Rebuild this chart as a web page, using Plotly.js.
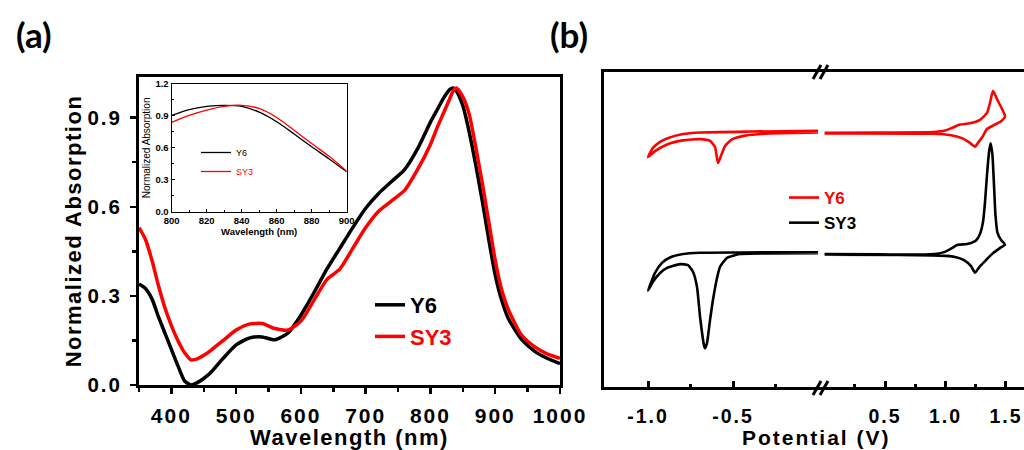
<!DOCTYPE html>
<html>
<head>
<meta charset="utf-8">
<script src="https://cdn.plot.ly/plotly-3.0.1.min.js"></script>
<style>
html,body{margin:0;padding:0;background:#fff;}
#chart{width:1024px;height:450px;}
.xtick text,.ytick text,.x2tick text,.x3tick text{letter-spacing:2px;}
.g-xtitle text,.g-ytitle text{letter-spacing:1.5px;}
.annotation[data-index="2"] text{letter-spacing:2px;}
</style>
</head>
<body>
<div id="chart"></div>
<script>
// ---------- Panel (a): UV-vis absorption ----------
const wavelength = [350,360,370,380,390,400,410,420,430,440,450,460,480,500,520,540,560,580,600,620,640,660,680,700,720,740,760,780,800,810,820,830,835,840,850,860,870,880,890,900,910,920,940,960,980,1000];
const absY6  = [0.34,0.325,0.29,0.23,0.175,0.12,0.065,0.015,0.0,0.008,0.022,0.04,0.09,0.135,0.158,0.162,0.152,0.175,0.235,0.31,0.39,0.46,0.53,0.595,0.645,0.685,0.725,0.795,0.885,0.925,0.965,0.995,1.0,0.99,0.94,0.85,0.74,0.62,0.49,0.37,0.285,0.225,0.155,0.115,0.09,0.072];
const absSY3 = [0.53,0.49,0.42,0.335,0.26,0.2,0.15,0.11,0.085,0.088,0.1,0.115,0.15,0.185,0.205,0.207,0.19,0.185,0.215,0.285,0.355,0.39,0.46,0.53,0.585,0.62,0.655,0.725,0.81,0.865,0.915,0.965,0.99,1.0,0.97,0.91,0.8,0.68,0.55,0.42,0.32,0.255,0.17,0.13,0.105,0.09];

// ---------- Inset: 800-900 nm ----------
const insetWavelength = [800,810,820,830,840,850,860,870,880,890,900];
const insetY6  = [0.905,0.96,0.99,1.0,0.99,0.935,0.845,0.73,0.61,0.495,0.375];
const insetSY3 = [0.84,0.905,0.955,0.99,1.0,0.97,0.885,0.765,0.64,0.52,0.38];

// ---------- Panel (b): cyclic voltammetry (current in a.u.) ----------
const cvY6NegV  = [0,-0.4,-0.694,-0.794,-0.888,-0.929,-0.971,-1.0,-0.959,-0.888,-0.794,-0.694,-0.635,-0.606,-0.588,-0.571,-0.547,-0.506,-0.429,-0.282,0];
const cvY6NegI  = [8.13,8.11,8.08,8.03,7.89,7.78,7.59,7.30,7.49,7.70,7.83,7.87,7.81,7.62,7.11,7.33,7.65,7.86,7.98,8.05,8.08];
const cvY6PosV  = [0,0.459,0.897,0.996,1.062,1.12,1.202,1.285,1.343,1.368,1.393,1.426,1.459,1.492,1.459,1.393,1.343,1.31,1.269,1.244,1.202,1.136,1.037,0.897,0];
const cvY6PosI  = [8.07,8.08,8.09,8.14,8.24,8.33,8.37,8.48,8.70,9.02,9.40,9.14,8.89,8.59,8.44,8.30,8.19,7.97,7.75,7.63,7.75,7.90,8.00,8.04,8.05];
const cvSY3NegV = [0,-0.459,-0.694,-0.794,-0.871,-0.918,-0.959,-1.0,-0.971,-0.929,-0.888,-0.812,-0.765,-0.735,-0.712,-0.694,-0.671,-0.665,-0.653,-0.635,-0.618,-0.594,-0.576,-0.535,-0.459,-0.3,0];
const cvSY3NegI = [4.28,4.27,4.26,4.22,4.11,3.94,3.62,3.06,3.34,3.62,3.78,3.90,3.87,3.65,3.18,2.23,1.33,1.23,1.40,2.13,2.76,3.46,3.82,4.10,4.22,4.24,4.25];
const cvSY3PosV = [0,0.459,0.872,0.996,1.054,1.095,1.178,1.252,1.285,1.31,1.326,1.343,1.36,1.373,1.388,1.401,1.413,1.43,1.459,1.492,1.45,1.393,1.335,1.285,1.244,1.211,1.153,1.079,0.955,0.624,0];
const cvSY3PosI = [4.22,4.21,4.21,4.29,4.41,4.51,4.54,4.65,4.86,5.24,5.84,6.73,7.46,7.74,7.37,6.41,5.46,4.89,4.67,4.52,4.41,4.25,4.03,3.83,3.63,3.84,4.03,4.13,4.17,4.19,4.20];

const xTicksNeg = [-1.0,-0.5], xTickTextNeg = ['-1.0','-0.5'];
const xTicksPos = [0.5,1.0,1.5], xTickTextPos = ['0.5','1.0','1.5'];

const RED = '#ff0000', BLACK = '#000000';
const FONT = 'Arial';
const W = 1024, H = 450;
const fx = p => p / W, fy = p => 1 - p / H;

const traces = [
  {x: wavelength, y: absY6, xaxis:'x', yaxis:'y', mode:'lines', name:'Y6', legend:'legend',
   line:{color:BLACK, width:3.5, shape:'spline', smoothing:0.6}},
  {x: wavelength, y: absSY3, xaxis:'x', yaxis:'y', mode:'lines', name:'<span style="color:#ff0000">SY3</span>', legend:'legend',
   line:{color:RED, width:3.5, shape:'spline', smoothing:0.6}},
  {x: insetWavelength, y: insetY6, xaxis:'x4', yaxis:'y4', mode:'lines', name:'Y6', legend:'legend3',
   line:{color:BLACK, width:1.3, shape:'spline', smoothing:0.8}},
  {x: insetWavelength, y: insetSY3, xaxis:'x4', yaxis:'y4', mode:'lines', name:'<span style="color:#ff0000">SY3</span>', legend:'legend3',
   line:{color:RED, width:1.3, shape:'spline', smoothing:0.8}},
  {x: cvY6NegV, y: cvY6NegI, xaxis:'x2', yaxis:'y2', mode:'lines', name:'<span style="color:#ff0000">Y6</span>', legend:'legend2',
   line:{color:RED, width:2.6, shape:'spline', smoothing:0.5}},
  {x: cvY6PosV, y: cvY6PosI, xaxis:'x3', yaxis:'y2', mode:'lines', showlegend:false,
   line:{color:RED, width:2.6, shape:'spline', smoothing:0.5}},
  {x: cvSY3NegV, y: cvSY3NegI, xaxis:'x2', yaxis:'y2', mode:'lines', name:'SY3', legend:'legend2',
   line:{color:BLACK, width:2.6, shape:'spline', smoothing:0.5}},
  {x: cvSY3PosV, y: cvSY3PosI, xaxis:'x3', yaxis:'y2', mode:'lines', showlegend:false,
   line:{color:BLACK, width:2.6, shape:'spline', smoothing:0.5}}
];

const boldTick = s => ({family:FONT, size:s, color:BLACK, weight:'bold'});
const baseAxis = {showgrid:false, zeroline:false, showline:true, linecolor:BLACK, ticks:'outside', tickcolor:BLACK};

function breakMark(x0, y0, x1, y1) {
  return {type:'line', xref:'paper', yref:'paper', x0:fx(x0), y0:fy(y0), x1:fx(x1), y1:fy(y1),
          line:{color:BLACK, width:3}};
}

const layout = {
  width: W, height: H,
  margin: {l:0, r:0, t:0, b:0},
  paper_bgcolor:'#ffffff', plot_bgcolor:'rgba(0,0,0,0)',
  font: {family: FONT, color: BLACK},
  xaxis: Object.assign({}, baseAxis, {
    domain:[fx(139), fx(560)], range:[350,1000], anchor:'y', mirror:true, linewidth:3,
    tick0:0, dtick:100, ticklen:6, tickwidth:2.5, ticklabelstandoff:4,
    minor:{dtick:50, tick0:0, ticks:'outside', ticklen:4, tickwidth:2.5, tickcolor:BLACK, showgrid:false},
    tickfont: boldTick(21),
    title:{text:'Wavelength (nm)', font:{family:FONT, size:22, weight:'bold', color:BLACK}, standoff:8}
  }),
  yaxis: Object.assign({}, baseAxis, {
    domain:[fy(385), fy(77)], range:[0,1.037], anchor:'x', mirror:true, linewidth:3,
    tick0:0, dtick:0.3, tickformat:'.1f', ticklen:6, tickwidth:2.5, ticklabelstandoff:4,
    minor:{dtick:0.15, tick0:0, ticks:'outside', ticklen:4, tickwidth:2.5, tickcolor:BLACK, showgrid:false},
    tickfont: boldTick(20.5),
    title:{text:'Normalized Absorption', font:{family:FONT, size:22, weight:'bold', color:BLACK}, standoff:0}
  }),
  xaxis4: Object.assign({}, baseAxis, {
    domain:[fx(171.7), fx(346.7)], range:[800,900], anchor:'y4', mirror:true, linewidth:1.2,
    tick0:800, dtick:20, ticks:'inside', ticklen:3, tickwidth:1,
    minor:{dtick:10, ticks:'inside', ticklen:2, tickwidth:1, tickcolor:BLACK, showgrid:false},
    tickfont: boldTick(9.5),
    title:{text:'Wavelength (nm)', font:{family:FONT, size:9.5, weight:'bold', color:BLACK}, standoff:3}
  }),
  yaxis4: Object.assign({}, baseAxis, {
    domain:[fy(211.7), fy(84)], range:[0,1.2], anchor:'x4', mirror:true, linewidth:1.2,
    tick0:0, dtick:0.3, tickformat:'.1f', ticks:'inside', ticklen:3, tickwidth:1,
    minor:{dtick:0.15, ticks:'inside', ticklen:2, tickwidth:1, tickcolor:BLACK, showgrid:false},
    tickfont: boldTick(9.5),
    title:{text:'Normalized Absorption', font:{family:FONT, size:10, color:BLACK}, standoff:2}
  }),
  xaxis2: Object.assign({}, baseAxis, {
    domain:[fx(604), fx(818)], range:[-1.259,0], anchor:'y2', mirror:true, linewidth:3,
    tickmode:'array', tickvals:xTicksNeg, ticktext:xTickTextNeg,
    ticks:'inside', ticklen:6, tickwidth:3, ticklabelstandoff:10,
    minor:{tickmode:'array', tickvals:[-0.75,-0.25], ticks:'inside', ticklen:3, tickwidth:3, tickcolor:BLACK, showgrid:false},
    tickfont: boldTick(19.5)
  }),
  xaxis3: Object.assign({}, baseAxis, {
    domain:[fx(818), 1], range:[-0.054,1.649], anchor:'y2', mirror:true, linewidth:3,
    tickmode:'array', tickvals:xTicksPos, ticktext:xTickTextPos,
    ticks:'inside', ticklen:6, tickwidth:3, ticklabelstandoff:10,
    minor:{tickmode:'array', tickvals:[0.25,0.75,1.25], ticks:'inside', ticklen:3, tickwidth:3, tickcolor:BLACK, showgrid:false},
    tickfont: boldTick(19.5)
  }),
  yaxis2: {
    domain:[fy(387), fy(72)], range:[0,10], anchor:'x2', showline:true, linecolor:BLACK, linewidth:3,
    mirror:false, ticks:'', showticklabels:false, showgrid:false, zeroline:false
  },
  legend: {x:fx(370), y:fy(284), xanchor:'left', yanchor:'top', bgcolor:'rgba(0,0,0,0)',
           font:{family:FONT, size:22, weight:'bold', color:BLACK}, tracegroupgap:0},
  legend2:{x:fx(784), y:fy(180), xanchor:'left', yanchor:'top', bgcolor:'rgba(0,0,0,0)',
           font:{family:FONT, size:17, weight:'bold', color:BLACK}, tracegroupgap:0},
  legend3:{x:fx(196), y:fy(138), xanchor:'left', yanchor:'top', bgcolor:'rgba(0,0,0,0)',
           font:{family:FONT, size:9, color:BLACK}, tracegroupgap:0},
  shapes: [
    breakMark(813, 79, 821, 65), breakMark(820, 79, 828, 65),
    breakMark(813, 395, 821, 381), breakMark(820, 395, 828, 381)
  ],
  annotations: [
    {text:'(a)', xref:'paper', yref:'paper', x:fx(34), y:fy(34), showarrow:false, xanchor:'center', yanchor:'middle',
     font:{family:'Lato, Open Sans, sans-serif', size:35, weight:'bold', color:BLACK}},
    {text:'(b)', xref:'paper', yref:'paper', x:fx(569), y:fy(34), showarrow:false, xanchor:'center', yanchor:'middle',
     font:{family:'Lato, Open Sans, sans-serif', size:35, weight:'bold', color:BLACK}},
    {text:'Potential (V)', xref:'paper', yref:'paper', x:fx(816), y:fy(437), showarrow:false, xanchor:'center', yanchor:'middle',
     font:{family:FONT, size:21, weight:'bold', color:BLACK}}
  ]
};

Plotly.newPlot('chart', traces, layout, {staticPlot:true, displayModeBar:false});
</script>
</body>
</html>
